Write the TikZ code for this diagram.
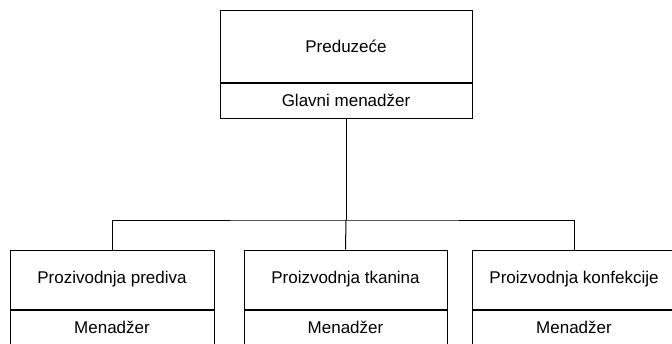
\documentclass[tikz,border=0pt]{standalone}
\usepackage{fontspec}
\setmainfont{Liberation Sans}
\begin{document}
\begin{tikzpicture}[x=1pt,y=-1pt]
\tikzstyle{every node}+=[inner sep=0pt]
\tikzstyle{okvir}=[draw=black, line width=1pt, rectangle, font=\fontsize{17}{20}\selectfont]
\tikzstyle{veza}=[black, line width=1pt]
\useasboundingbox (0,0) rectangle (672,343);
\clip (0,0) rectangle (672,343);
\node [okvir, minimum width=252pt, minimum height=72pt] (preduzece) at (346,46) {Preduzeće};
\node [okvir, minimum width=252pt, minimum height=35pt, anchor=north] (glavni) at (preduzece.south) {Glavni menadžer};
\node [okvir, minimum width=204pt, minimum height=59pt] (predivo) at (112,279.5) {Prozivodnja prediva};
\node [okvir, minimum width=204pt, minimum height=35pt, anchor=north] (menpredivo) at (predivo.south) {Menadžer};
\node [okvir, minimum width=203pt, minimum height=59pt] (tkanina) at (345.5,279.5) {Proizvodnja tkanina};
\node [okvir, minimum width=203pt, minimum height=35pt, anchor=north] (mentkanina) at (tkanina.south) {Menadžer};
\node [okvir, minimum width=204pt, minimum height=59pt] (konfekcija) at (574,279.5) {Proizvodnja konfekcije};
\node [okvir, minimum width=204pt, minimum height=35pt, anchor=north] (menkonfekcija) at (konfekcija.south) {Menadžer};
\coordinate (razvod) at (346,220);
\draw [veza] (glavni.south) -- (razvod);
\draw [veza] (razvod) -- (tkanina.north);
\draw [veza] (predivo.north) |- (razvod) -| (konfekcija.north);
\end{tikzpicture}
\end{document}
